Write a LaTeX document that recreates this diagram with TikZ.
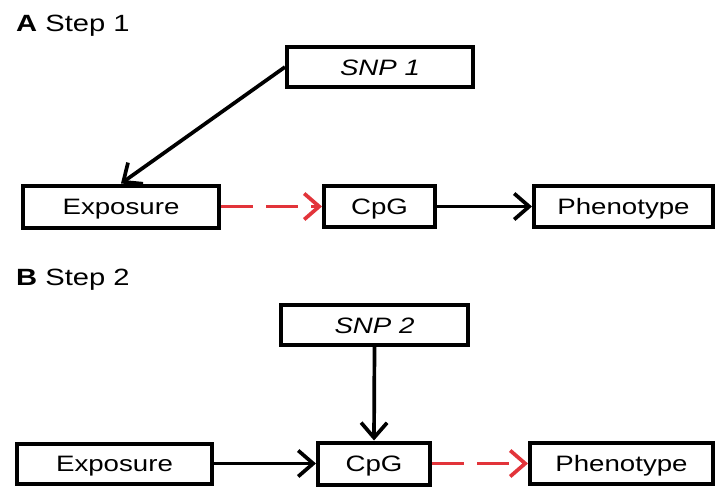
\documentclass[tikz,border=0pt]{standalone}
\usepackage{fontspec}
\setmainfont{Liberation Sans}[FakeStretch=1.24]
\usetikzlibrary{arrows.meta}
\definecolor{linkred}{RGB}{226,52,58}
\begin{document}
\begin{tikzpicture}[x=1pt,y=-1pt,
  box/.style={draw=black, line width=4pt, inner sep=0pt,
    text height=16pt, text depth=0pt, font=\fontsize{22.3}{24}\selectfont},
  snp/.style={box, font=\fontsize{22.3}{24}\selectfont\itshape},
  link/.style={line width=3.7pt, -{Straight Barb[length=15pt,width=26pt]}},
  weak/.style={link, draw=linkred, dash pattern=on 32pt off 13pt},
  paneltitle/.style={anchor=base west, inner sep=0pt,
    font=\fontsize{23.5}{26}\selectfont}]
\useasboundingbox (0,0) rectangle (717,487);

% Panel A: SNP 1 as instrument for the exposure
\node[paneltitle] (titleA) at (16,31.7) {\textbf{A} Step 1};
\node[snp, minimum width=186pt, minimum height=40pt] (snpA) at (380,67) {SNP 1};
\node[box, minimum width=196pt, minimum height=42pt] (expA) at (121,206.5) {Exposure};
\node[box, minimum width=111pt, minimum height=41pt] (cpgA) at (379.5,206.5) {CpG};
\node[box, minimum width=179pt, minimum height=41pt] (phenA) at (623.5,206.5) {Phenotype};

\draw[link] (snpA.west) -- (expA.north);
\draw[weak] (expA.east) -- (cpgA.west);
\draw[link] (cpgA.east) -- (phenA.west);

% Panel B: SNP 2 as instrument for the CpG site
\node[paneltitle] (titleB) at (16,285) {\textbf{B} Step 2};
\node[snp, minimum width=187pt, minimum height=40pt] (snpB) at (374.5,325) {SNP 2};
\node[box, minimum width=195pt, minimum height=40pt] (expB) at (114.5,463.5) {Exposure};
\node[box, minimum width=112pt, minimum height=42pt] (cpgB) at (374,463.5) {CpG};
\node[box, minimum width=183pt, minimum height=41pt] (phenB) at (621.5,463.5) {Phenotype};

\draw[link] (snpB.south) -- (cpgB.north);
\draw[link] (expB.east) -- (cpgB.west);
\draw[weak] (cpgB.east) -- (phenB.west);
\end{tikzpicture}
\end{document}
